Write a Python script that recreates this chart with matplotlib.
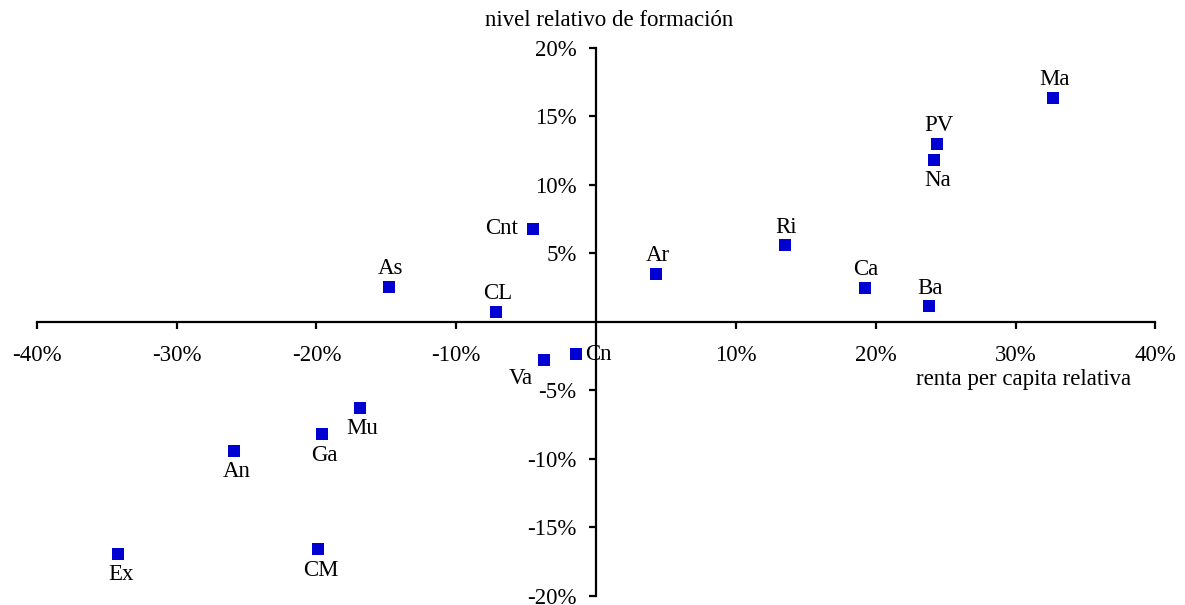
import matplotlib
matplotlib.use("Agg")
import matplotlib.pyplot as plt
from matplotlib.ticker import FuncFormatter

plt.rcParams['font.family'] = ['Liberation Serif', 'DejaVu Serif']

# renta per capita relativa (x) y nivel relativo de formacion (y), en %
names = ['Ma', 'PV', 'Na', 'Ri', 'Ar', 'Ca', 'Ba', 'Cnt', 'As', 'CL',
         'Va', 'Cn', 'Mu', 'Ga', 'An', 'Ex', 'CM']
renta = [32.7, 24.4, 24.2, 13.5, 4.3, 19.2, 23.8, -4.5, -14.8, -7.15,
         -3.7, -1.45, -16.9, -19.6, -25.9, -34.2, -19.9]
formacion = [16.35, 13.0, 11.8, 5.6, 3.5, 2.5, 1.15, 6.8, 2.55, 0.75,
             -2.75, -2.35, -6.25, -8.2, -9.4, -16.95, -16.6]
# where each label sits relative to its point
label_pos = ['above', 'above', 'below', 'above', 'above', 'above', 'above', 'left', 'above', 'above',
             'belowleft', 'right', 'below', 'below', 'below', 'below', 'below']

fig = plt.figure(figsize=(11.85, 6.05), dpi=100)
ax = fig.add_axes([0.031, 0.015, 0.944, 0.906])

ax.scatter(renta, formacion, marker='s', s=72, color='#0000D0', zorder=3, linewidths=0)

# offsets in points, label centred on the offset
offsets = {
    'above': ((1, 13), 'center', 'center'),
    'below': ((2, -15), 'center', 'center'),
    'left': ((-11, 0), 'right', 'center'),
    'right': ((7, 0), 'left', 'center'),
    'belowleft': ((-17, -14), 'center', 'center'),
}
for n, x, y, p in zip(names, renta, formacion, label_pos):
    off, ha, va = offsets[p]
    ax.annotate(n, (x, y), xytext=off, textcoords='offset points',
                ha=ha, va=va, fontsize=16.5)

ax.set_xlim(-40, 40)
ax.set_ylim(-20, 20)
ax.spines['left'].set_position(('data', 0))
ax.spines['bottom'].set_position(('data', 0))
ax.spines['right'].set_visible(False)
ax.spines['top'].set_visible(False)
for s in ['left', 'bottom']:
    ax.spines[s].set_linewidth(1.6)

ax.set_xticks([-40, -30, -20, -10, 10, 20, 30, 40])
ax.set_yticks([-20, -15, -10, -5, 5, 10, 15, 20])
pct = FuncFormatter(lambda v, p: '%d%%' % v)
ax.xaxis.set_major_formatter(pct)
ax.yaxis.set_major_formatter(pct)
ax.tick_params(axis='both', direction='out', length=5, width=1.6, labelsize=16.5)
ax.tick_params(axis='x', pad=12)
ax.tick_params(axis='y', pad=9)

fig.text(0.514, 0.966, 'nivel relativo de formación', ha='center', va='center', fontsize=16.5)
ax.text(0.978, 0.394, 'renta per capita relativa', transform=ax.transAxes,
        ha='right', va='center', fontsize=16.5)

fig.savefig('out.png', dpi=100)
